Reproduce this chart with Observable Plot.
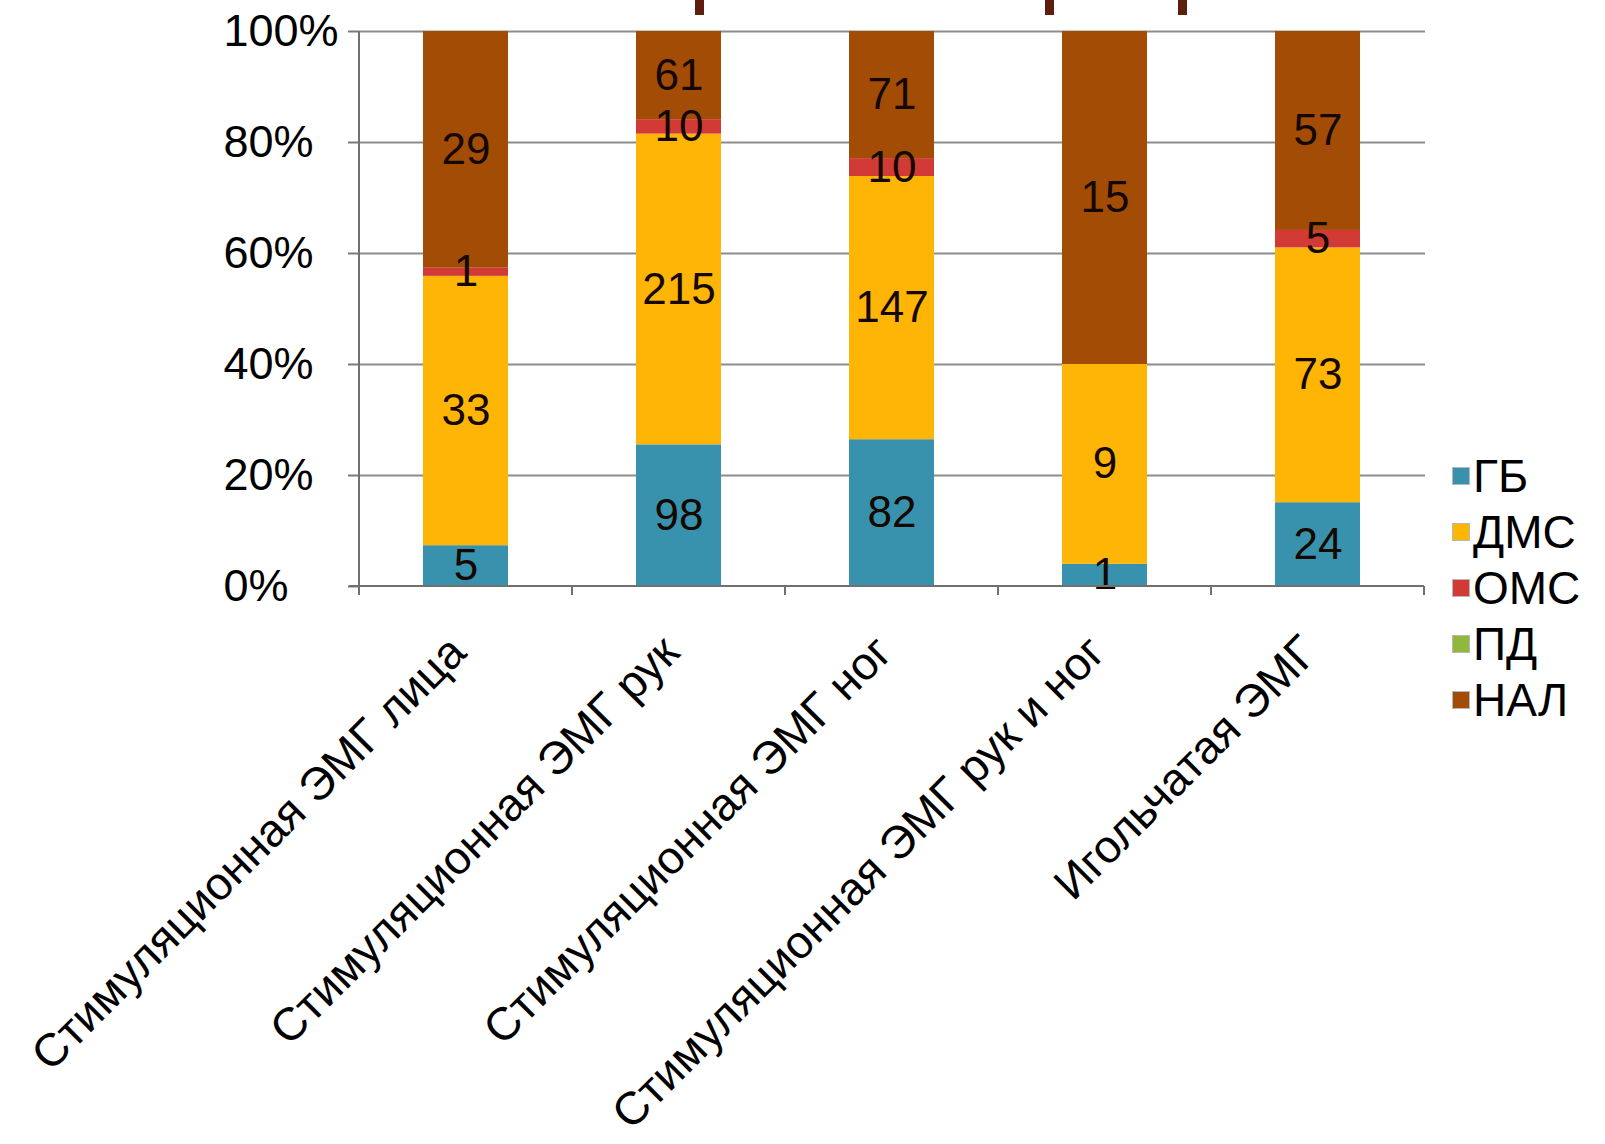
<!DOCTYPE html>
<html><head><meta charset="utf-8">
<script src="https://cdn.jsdelivr.net/npm/d3@7"></script>
<script src="https://cdn.jsdelivr.net/npm/@observablehq/plot@0.6"></script>
<style>
body{margin:0;background:#fff;font-family:"Liberation Sans",Arial,sans-serif;}
#wrap{position:relative;width:1605px;height:1144px;overflow:hidden;background:#fff}
#legend{position:absolute;left:1452px;top:448px;}
.row{display:flex;align-items:center;height:56px;font-size:46px;color:#000;line-height:1}
.sw{width:18px;height:18px;margin-right:3px;box-sizing:border-box;border:1px solid #b8b8b8}
.mark{position:absolute;top:0;width:9px;height:15px;background:#5e1d0e}
</style></head><body><div id="wrap"></div>
<script>
const categories = [
  "Стимуляционная ЭМГ лица",
  "Стимуляционная ЭМГ рук",
  "Стимуляционная ЭМГ ног",
  "Стимуляционная ЭМГ рук и ног",
  "Игольчатая ЭМГ"
];
const series = ["ГБ", "ДМС", "ОМС", "ПД", "НАЛ"];
const seriesColors = ["#3891ad", "#ffb506", "#d23a35", "#8fb83d", "#a34c05"];
const valuesGB  = [5, 98, 82, 1, 24];
const valuesDMS = [33, 215, 147, 9, 73];
const valuesOMS = [1, 10, 10, 0, 5];
const valuesPD  = [0, 0, 0, 0, 0];
const valuesNAL = [29, 61, 71, 15, 57];
const yTicks = [0, 0.2, 0.4, 0.6, 0.8, 1];

const seriesValues = [valuesGB, valuesDMS, valuesOMS, valuesPD, valuesNAL];
const data = [];
categories.forEach((c, i) => {
  series.forEach((s, j) => data.push({cat: c, series: s, value: seriesValues[j][i]}));
});

const FONT = "Liberation Sans, Arial, sans-serif";
const chart = Plot.plot({
  width: 1605, height: 1144,
  marginTop: 31, marginBottom: 558, marginLeft: 358, marginRight: 180,
  style: {fontFamily: FONT, fontSize: "44px", background: "#fff", color: "#000", overflow: "visible"},
  x: {domain: categories, paddingInner: 0.6, paddingOuter: 0.3},
  y: {domain: [0, 1]},
  color: {domain: series, range: seriesColors},
  marks: [
    Plot.gridY(yTicks.filter(d => d > 0), {stroke: "#8c8c8c", strokeOpacity: 1, strokeWidth: 2}),
    Plot.barY(data, {x: "cat", y: "value", fill: "series", order: series, offset: "normalize"}),
    Plot.text(data.filter(d => d.value > 0), Plot.stackY({
      x: "cat", y: "value", z: "series", order: series, offset: "normalize",
      text: d => String(d.value), fill: "#140800", fontSize: 44
    })),
    Plot.axisY({ticks: yTicks, tickFormat: d3.format(".0%"), tickSize: 10, tickPadding: 125,
      textAnchor: "start", fontSize: 45, label: null, stroke: "#7a7a7a", strokeWidth: 2}),
    Plot.axisX({tickSize: 0, tickRotate: -45, tickPadding: 58, dx: -8, fontSize: 46, label: null})
  ]
});

// axis lines and category boundary ticks, from the chart's own scales
const xs = chart.scale("x"), ys = chart.scale("y");
const svg = d3.select(chart);
const yBottom = ys.apply(0), yTop = ys.apply(1);
const gap = xs.step - xs.bandwidth;
const bounds = categories.map(c => xs.apply(c) - gap / 2);
bounds.push(xs.apply(categories[categories.length - 1]) + xs.bandwidth + gap / 2);
const g = svg.append("g").attr("stroke", "#707070").attr("stroke-width", 2);
g.append("line").attr("x1", bounds[0] - 10).attr("x2", bounds[bounds.length - 1]).attr("y1", yBottom).attr("y2", yBottom);
g.append("line").attr("x1", bounds[0]).attr("x2", bounds[0]).attr("y1", yTop).attr("y2", yBottom + 9);
bounds.forEach(b => g.append("line").attr("x1", b).attr("x2", b).attr("y1", yBottom).attr("y2", yBottom + 9));

const wrap = document.getElementById("wrap");
wrap.appendChild(chart);

// legend
const legend = document.createElement("div");
legend.id = "legend";
series.forEach((s, j) => {
  const row = document.createElement("div");
  row.className = "row";
  const sw = document.createElement("span");
  sw.className = "sw";
  sw.style.background = seriesColors[j];
  const t = document.createElement("span");
  t.textContent = s;
  row.appendChild(sw); row.appendChild(t);
  legend.appendChild(row);
});
wrap.appendChild(legend);

// remnants of the cropped title above the chart
[695, 1045, 1178].forEach(x => {
  const m = document.createElement("div");
  m.className = "mark";
  m.style.left = x + "px";
  wrap.appendChild(m);
});
</script>
</body></html>
